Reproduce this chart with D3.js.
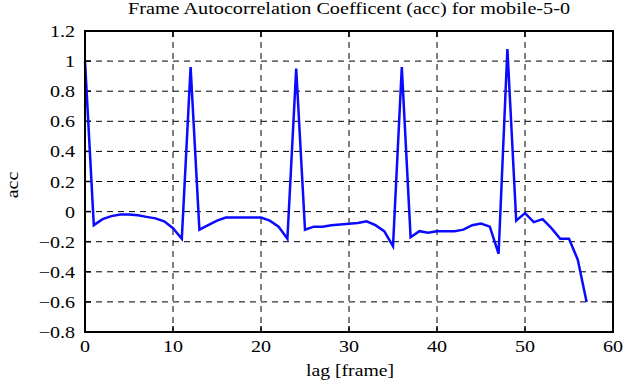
<!DOCTYPE html>
<html>
<head>
<meta charset="utf-8">
<script src="https://cdn.jsdelivr.net/npm/d3@7"></script>
<style>
  body { margin: 0; background: #fff; }
</style>
</head>
<body>
<svg id="chart" width="625" height="387" style="font-family: 'Liberation Serif', 'DejaVu Serif', serif;"></svg>
<script>
const lags = d3.range(0, 58);
const acc = [
  1.0, -0.09, -0.05, -0.03, -0.02, -0.02, -0.025, -0.035, -0.045, -0.065,
  -0.11, -0.18, 0.96, -0.12, -0.09, -0.06, -0.04, -0.04, -0.04, -0.04,
  -0.04, -0.06, -0.1, -0.18, 0.95, -0.12, -0.1, -0.1, -0.09, -0.085,
  -0.08, -0.075, -0.065, -0.09, -0.13, -0.23, 0.96, -0.17, -0.13, -0.14,
  -0.13, -0.13, -0.13, -0.12, -0.09, -0.08, -0.1, -0.28, 1.08, -0.06,
  -0.01, -0.07, -0.05, -0.11, -0.18, -0.18, -0.32, -0.6
];
const xTicks = [0, 10, 20, 30, 40, 50, 60];
const yTicks = [-0.8, -0.6, -0.4, -0.2, 0, 0.2, 0.4, 0.6, 0.8, 1, 1.2];

const margin = { top: 31, right: 12, bottom: 55, left: 85 };
const width = 625 - margin.left - margin.right;
const height = 387 - margin.top - margin.bottom;
const serif = "'Liberation Serif', 'DejaVu Serif', serif";
const stretch = 1.18; // the original font is wider than Times

const svg = d3.select("#chart");
const g = svg.append("g")
  .attr("transform", "translate(" + margin.left + "," + margin.top + ")");

const x = d3.scaleLinear().domain([0, 60]).range([0, width]);
const y = d3.scaleLinear().domain([-0.8, 1.2]).range([height, 0]);

// dashed grid
g.selectAll(".vgrid")
  .data(xTicks.slice(1, -1))
  .enter().append("line")
  .attr("x1", d => x(d)).attr("x2", d => x(d))
  .attr("y1", 0).attr("y2", height)
  .attr("stroke", "#000").attr("stroke-width", 1)
  .attr("stroke-dasharray", "6,5");

g.selectAll(".hgrid")
  .data(yTicks.slice(1, -1))
  .enter().append("line")
  .attr("x1", 0).attr("x2", width)
  .attr("y1", d => y(d)).attr("y2", d => y(d))
  .attr("stroke", "#000").attr("stroke-width", 1)
  .attr("stroke-dasharray", "6,5");

// ticks inside on all four sides
const tickLen = 6;
xTicks.forEach(t => {
  g.append("line").attr("x1", x(t)).attr("x2", x(t)).attr("y1", height).attr("y2", height - tickLen)
    .attr("stroke", "#000").attr("stroke-width", 1.5);
  g.append("line").attr("x1", x(t)).attr("x2", x(t)).attr("y1", 0).attr("y2", tickLen)
    .attr("stroke", "#000").attr("stroke-width", 1.5);
});
yTicks.forEach(t => {
  g.append("line").attr("x1", 0).attr("x2", tickLen).attr("y1", y(t)).attr("y2", y(t))
    .attr("stroke", "#000").attr("stroke-width", 1.5);
  g.append("line").attr("x1", width).attr("x2", width - tickLen).attr("y1", y(t)).attr("y2", y(t))
    .attr("stroke", "#000").attr("stroke-width", 1.5);
});

// tick labels
g.selectAll(".xl")
  .data(xTicks)
  .enter().append("text")
  .attr("transform", d => "translate(" + x(d) + "," + (height + 20) + ") scale(" + stretch + ",1)")
  .attr("text-anchor", "middle")
  .attr("font-family", serif)
  .attr("font-size", 17)
  .text(d => d);

g.selectAll(".yl")
  .data(yTicks)
  .enter().append("text")
  .attr("transform", d => "translate(-10," + (y(d) + 6) + ") scale(" + stretch + ",1)")
  .attr("text-anchor", "end")
  .attr("font-family", serif)
  .attr("font-size", 17)
  .text(d => d3.format("")(+d.toFixed(1)));

// the line
const line = d3.line()
  .x((d, i) => x(lags[i]))
  .y(d => y(d));

g.append("path")
  .datum(acc)
  .attr("fill", "none")
  .attr("stroke", "#0a0aff")
  .attr("stroke-width", 2.5)
  .attr("stroke-linejoin", "miter")
  .attr("d", line);

// frame
g.append("rect")
  .attr("width", width).attr("height", height)
  .attr("fill", "none")
  .attr("stroke", "#000").attr("stroke-width", 2);

// labels
svg.append("text")
  .attr("x", 128)
  .attr("y", 14)
  .attr("font-family", serif)
  .attr("font-size", 17)
  .attr("textLength", 442)
  .attr("lengthAdjust", "spacingAndGlyphs")
  .text("Frame Autocorrelation Coefficent (acc) for mobile-5-0");

svg.append("text")
  .attr("x", 306)
  .attr("y", 376)
  .attr("font-family", serif)
  .attr("font-size", 17)
  .attr("textLength", 88)
  .attr("lengthAdjust", "spacingAndGlyphs")
  .text("lag [frame]");

svg.append("text")
  .attr("transform", "translate(17.5,185) rotate(-90) scale(" + stretch + ",1)")
  .attr("text-anchor", "middle")
  .attr("font-family", serif)
  .attr("font-size", 17)
  .text("acc");
</script>
</body>
</html>
